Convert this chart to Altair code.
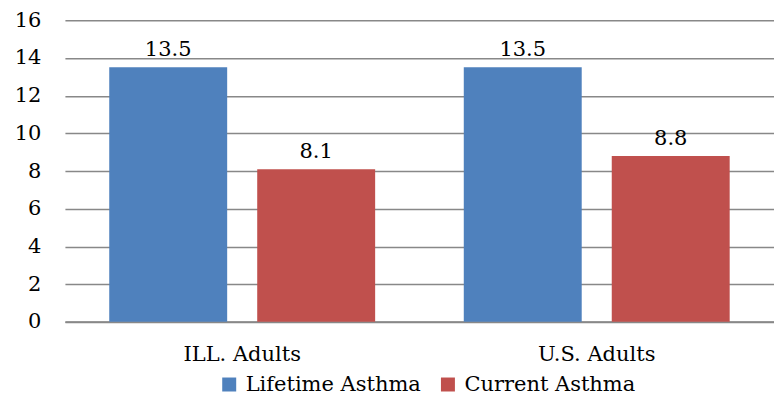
import altair as alt
import pandas as pd

groups = ["ILL. Adults", "U.S. Adults"]
series = ["Lifetime Asthma", "Current Asthma"]
lifetime = [13.5, 13.5]
current = [8.1, 8.8]
colors = ["#4F81BD", "#C0504D"]

rows = []
for i, g in enumerate(groups):
    rows.append({"group": g, "series": series[0], "value": lifetime[i]})
    rows.append({"group": g, "series": series[1], "value": current[i]})
df = pd.DataFrame(rows)

FONT = "DejaVu Serif"
FS = 21

x = alt.X("group:N", sort=groups, title=None,
          scale=alt.Scale(paddingInner=0.25, paddingOuter=0.125),
          axis=alt.Axis(labelAngle=0, labelFontSize=FS, labelFont=FONT, labelColor="#000000",
                        ticks=False, domainColor="#888888", domainWidth=2, labelPadding=22))
xo = alt.XOffset("series:N", sort=series, scale=alt.Scale(paddingInner=0.203, paddingOuter=0))
y = alt.Y("value:Q", title=None,
          scale=alt.Scale(domain=[0, 16]),
          axis=alt.Axis(values=list(range(0, 17, 2)), labelFontSize=FS, labelFont=FONT,
                        labelColor="#000000", ticks=False, domain=False, labelPadding=24,
                        gridColor="#888888", gridWidth=1.5))

base = alt.Chart(df)
bars = base.mark_bar().encode(
    x=x, xOffset=xo, y=y,
    color=alt.Color("series:N", sort=series,
                    scale=alt.Scale(domain=series, range=colors),
                    legend=alt.Legend(title=None, orient="none", legendX=154, legendY=354,
                                      direction="horizontal", symbolType="square",
                                      symbolSize=196, symbolStrokeWidth=0, labelFontSize=FS,
                                      labelFont=FONT, labelColor="#000000", columnPadding=16,
                                      labelOffset=6, labelLimit=400)),
)
labels = base.mark_text(dy=-17, fontSize=FS, font=FONT, color="#000000").encode(
    x=x, xOffset=xo, y=y, text=alt.Text("value:Q", format=".1f"))

chart = (bars + labels).properties(
    width=710, height=302,
    autosize=alt.AutoSizeParams(type="none"),
    padding={"left": 57, "top": 12, "right": 0, "bottom": 73},
).configure_view(stroke=None).configure_axis(gridOpacity=1)

chart.save("out.html", embed_options={"renderer": "svg", "actions": False})
